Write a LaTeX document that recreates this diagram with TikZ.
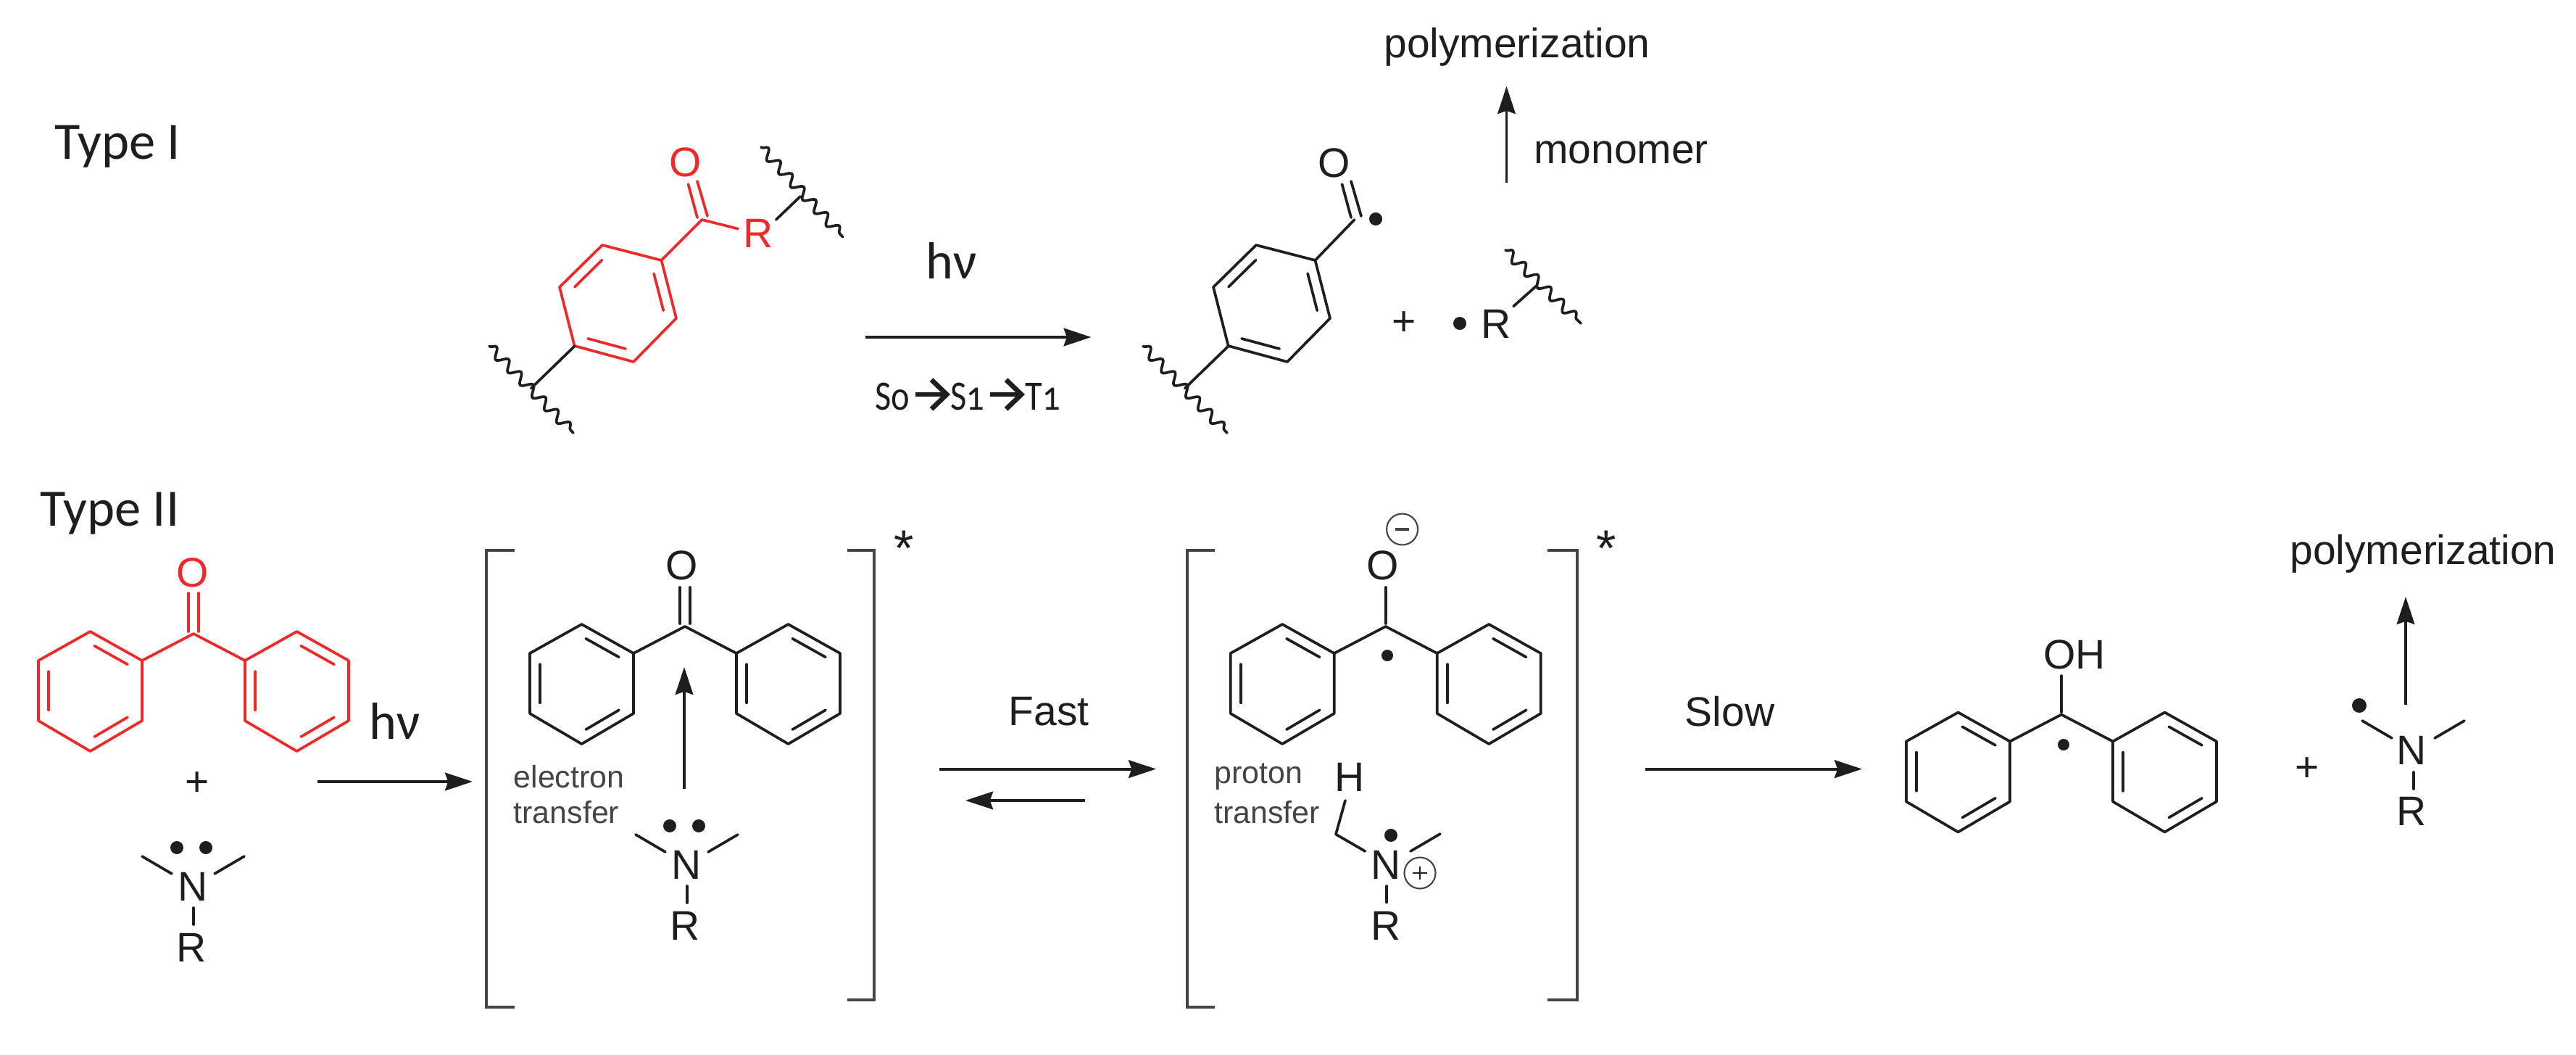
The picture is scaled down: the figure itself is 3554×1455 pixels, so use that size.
\documentclass[tikz,border=0pt]{standalone}
\usepackage{fontspec}
\setmainfont{Liberation Sans}
\newfontfamily\calib{Carlito}
\newfontfamily\calibold[Numbers=OldStyle,FakeStretch=0.84]{Carlito}
\usetikzlibrary{arrows.meta,calc,decorations.pathmorphing}
\definecolor{ink}{HTML}{1E1E1E}
\definecolor{redc}{HTML}{F02828}
\definecolor{soft}{HTML}{444444}
\tikzset{
  x=0.01cm,y=-0.01cm,
  bond/.style={line width=1.05pt,draw=ink,line cap=round,line join=round},
  rbond/.style={line width=1.05pt,draw=redc,line cap=round,line join=round},
  brack/.style={line width=0.95pt,draw=soft,line join=miter},
  wavy/.style={line width=1.05pt,draw=ink,line cap=round,decorate,decoration={snake,segment length=6.9pt,amplitude=1.9pt}},
  rxn/.style={line width=1.1pt,draw=ink,-{Stealth[length=10.8pt,width=7pt,inset=1.2pt]}},
  atom/.style={inner sep=0pt,font=\fontsize{16.2pt}{18pt}\selectfont,text=ink},
  small/.style={inner sep=0pt,font=\fontsize{12.2pt}{14pt}\selectfont,text=soft},
  ttl/.style={inner sep=0pt,anchor=base west,font=\calib\fontsize{20.6pt}{24pt}\selectfont,text=ink},
  hnu/.style={inner sep=0pt,font=\calib\fontsize{20.5pt}{24pt}\selectfont,text=ink},
  star/.style={inner sep=0pt,anchor=base,font=\fontsize{20pt}{24pt}\selectfont,text=ink},
  dotc/.style={fill=ink,draw=none},
  statelbl/.style={inner sep=0pt,anchor=base west,font=\calibold\fontsize{16.4pt}{18pt}\selectfont,text=ink},
  statearrow/.style={line width=1.9pt,draw=ink,shorten <=2pt,-{Straight Barb[length=6pt,width=11.5pt,line width=1.9pt]}},
}
% ring: #1 style, #2..#7 vertices; double bonds on edges 1-2, 3-4, 5-6
\newcommand\hexring[7]{%
  \coordinate (h1) at #2; \coordinate (h2) at #3; \coordinate (h3) at #4;
  \coordinate (h4) at #5; \coordinate (h5) at #6; \coordinate (h6) at #7;
  \coordinate (hc) at ($(h1)!.5!(h4)$);
  \draw[#1] (h1)--(h2)--(h3)--(h4)--(h5)--(h6)--cycle;
  \draw[#1] ($(h1)!.1!(h2)!.2!(hc)$)--($(h2)!.1!(h1)!.2!(hc)$);
  \draw[#1] ($(h3)!.1!(h4)!.2!(hc)$)--($(h4)!.1!(h3)!.2!(hc)$);
  \draw[#1] ($(h5)!.1!(h6)!.2!(hc)$)--($(h6)!.1!(h5)!.2!(hc)$);
}
% benzophenone skeleton around central carbon
\newcommand\diphenyl[3]{%
  \begin{scope}[shift={(#1,#2)}]
    \hexring{#3}{(-142.5,-3)}{(-71,37)}{(-71,120)}{(-142.5,162)}{(-214,120)}{(-214,37)}
    \hexring{#3}{(142.5,-3)}{(214,37)}{(214,120)}{(142.5,162)}{(71,120)}{(71,37)}
    \draw[#3] (-71,37)--(0,0)--(71,37);
  \end{scope}}
% amine arms, N at (#1,#2)
\newcommand\amine[2]{%
  \begin{scope}[shift={(#1,#2)}]
    \draw[bond] (-70,-42)--(-29,-18);
    \draw[bond] (71,-42)--(30,-18);
    \draw[bond] (1,29)--(1,52);
  \end{scope}}
\newcommand\lonepair[2]{%
  \begin{scope}[shift={(#1,#2)}]
    \fill[dotc] (-22,-54) circle[radius=9];
    \fill[dotc] (18,-54) circle[radius=9];
  \end{scope}}
\begin{document}
\begin{tikzpicture}
\useasboundingbox (0,0) rectangle (3554,1455);
\fill[white] (0,0) rectangle (3554,1455);

% ---- titles
\node[ttl] (t1) at (75,220) {Type I};
\node[ttl] (t2) at (55,725) {Type II};

% ---- Type I reactant
\hexring{rbond}{(912.5,359)}{(933,439)}{(874,499)}{(792.6,477)}{(772,396)}{(831,338)}
\draw[rbond] (912.5,359)--(968.6,303);
\draw[rbond] (949.5,254)--(962,300);
\draw[rbond] (962,250)--(976,298);
\draw[rbond] (968.6,303)--(1018,315.5);
\node[atom,text=redc] (o1) at (946,224) {O};
\node[atom,text=redc] (r1) at (1046,322) {R};
\draw[bond] (1070.7,303)--(1104,271);
\draw[wavy] (1050,203)--(1162.5,326.5);
\draw[bond] (792.6,477.5)--(732.7,535.5);
\draw[wavy] (675,477.5)--(791,597);

% ---- Type I arrow
\node[hnu] (hv1) at (1313,359) {hν};
\coordinate (a1s) at (1194,465); \coordinate (a1e) at (1505.6,465);
\draw[rxn] (a1s)--(a1e);
\node[statelbl] (st0) at (1207,565) {So};
\node[statelbl] (st1) at (1311,565) {S1};
\node[statelbl] (st2) at (1414,565) {T1};
\draw[statearrow] ($(st0.base east)+(0,-21)$)--($(st1.base west)+(0,-21)$);
\draw[statearrow] ($(st1.base east)+(0,-21)$)--($(st2.base west)+(0,-21)$);

% ---- Type I products
\hexring{bond}{(1814.5,359)}{(1835,439)}{(1776,499)}{(1694.6,477)}{(1674,396)}{(1733,338)}
\draw[bond] (1814.5,359)--(1868.6,303);
\draw[bond] (1851.5,254)--(1864,300);
\draw[bond] (1864,250)--(1878,298);
\node[atom] (o2) at (1841,224.5) {O};
\fill[dotc] (1898,302) circle[radius=9];
\draw[bond] (1694.6,477.5)--(1634.7,535.5);
\draw[wavy] (1577,477.5)--(1693,597);
\node[atom] (p1) at (1937,446) {+};
\fill[dotc] (2014,446) circle[radius=9];
\node[atom] (r2) at (2064,447) {R};
\draw[bond] (2088,422.5)--(2120,394);
\draw[wavy] (2077,345)--(2181,446);
\coordinate (a2s) at (2078.5,252); \coordinate (a2e) at (2078.5,119);
\draw[rxn,line width=0.95pt] (a2s)--(a2e);
\node[atom] (mono) at (2236.6,210) {monomer};
\node[atom] (poly1) at (2093,65) {polymerization};

% ---- Type II reactants
\diphenyl{267}{874}{rbond}
\draw[rbond] (260,818)--(260,871);
\draw[rbond] (274,818)--(274,871);
\node[atom,text=redc] (o3) at (265.5,790) {O};
\node[atom] (p2) at (272,1081) {+};
\amine{266}{1223}
\lonepair{266}{1223}
\node[atom] (n1) at (266,1223) {N};
\node[atom] (r3) at (264,1307) {R};
\node[hnu] (hv2) at (545,994) {hν};
\coordinate (a3s) at (438,1078); \coordinate (a3e) at (652,1078);
\draw[rxn] (a3s)--(a3e);

% ---- bracket 1
\draw[brack] (710,759)--(671,759)--(671,1389)--(710,1389);
\draw[brack] (1169,759)--(1206,759)--(1206,1379)--(1169,1379);
\node[star] (s1) at (1247.5,780) {*};
\diphenyl{945}{864}{bond}
\draw[bond] (938,810)--(938,860);
\draw[bond] (952,810)--(952,860);
\node[atom] (o4) at (941,780) {O};
\coordinate (a4s) at (944,1088); \coordinate (a4e) at (944,920);
\draw[rxn,line width=0.95pt] (a4s)--(a4e);
\node[small,anchor=west] (et1) at (708,1071.5) {electron};
\node[small,anchor=west] (et2) at (708,1120) {transfer};
\amine{947}{1193}
\lonepair{946}{1193}
\node[atom] (n2) at (947,1193) {N};
\node[atom] (r4) at (945,1277) {R};

% ---- equilibrium
\node[atom] (fast) at (1447,981.5) {Fast};
\coordinate (a5s) at (1296,1060.6); \coordinate (a5e) at (1595,1060.6);
\draw[rxn] (a5s)--(a5e);
\coordinate (a6s) at (1497,1104); \coordinate (a6e) at (1332,1104);
\draw[rxn] (a6s)--(a6e);

% ---- bracket 2
\draw[brack] (1676,759)--(1638,759)--(1638,1389)--(1676,1389);
\draw[brack] (2135,759)--(2176,759)--(2176,1379)--(2135,1379);
\node[star] (s2) at (2216,780) {*};
\diphenyl{1911.7}{864}{bond}
\draw[bond] (1911.7,810)--(1911.7,860);
\node[atom] (o5) at (1908,780) {O};
\draw[line width=0.6pt,draw=soft] (1934.6,730) circle[radius=21.5];
\draw[line width=1pt,draw=soft] (1925,730)--(1944,730);
\fill[dotc] (1914,904) circle[radius=8];
\node[small,anchor=west] (pt1) at (1674.5,1071.5) {proton};
\node[small,anchor=west] (pt2) at (1674.5,1120) {transfer};
\node[atom] (h1n) at (1862,1071.5) {H};
\draw[bond] (1856,1104)--(1843,1150.6)--(1883.4,1174);
\fill[dotc] (1919,1152) circle[radius=9];
\draw[bond] (1946,1174)--(1987,1150);
\draw[bond] (1913,1222)--(1913,1244.5);
\node[atom] (n3) at (1912,1193) {N};
\draw[line width=0.6pt,draw=soft] (1959,1204) circle[radius=21.5];
\draw[line width=0.8pt,draw=ink] (1949,1204)--(1969,1204) (1959,1195)--(1959,1213);
\node[atom] (r5) at (1912,1277) {R};

% ---- slow step
\node[atom] (slow) at (2386.5,981.5) {Slow};
\coordinate (a7s) at (2270,1060.6); \coordinate (a7e) at (2569,1060.6);
\draw[rxn] (a7s)--(a7e);

% ---- final products
\diphenyl{2844}{985.5}{bond}
\draw[bond] (2844,932)--(2844,982);
\node[atom] (oh) at (2862,902.4) {OH};
\fill[dotc] (2847,1027) circle[radius=8];
\node[atom] (p3) at (3183,1060.6) {+};
\fill[dotc] (3255,973) circle[radius=10];
\amine{3329}{1036}
\node[atom] (n4) at (3327,1035) {N};
\node[atom] (r6) at (3327,1119) {R};
\coordinate (a8s) at (3319,971.6); \coordinate (a8e) at (3319,823);
\draw[rxn,line width=0.95pt] (a8s)--(a8e);
\node[atom] (poly2) at (3343,764) {polymerization};
\end{tikzpicture}
\end{document}
